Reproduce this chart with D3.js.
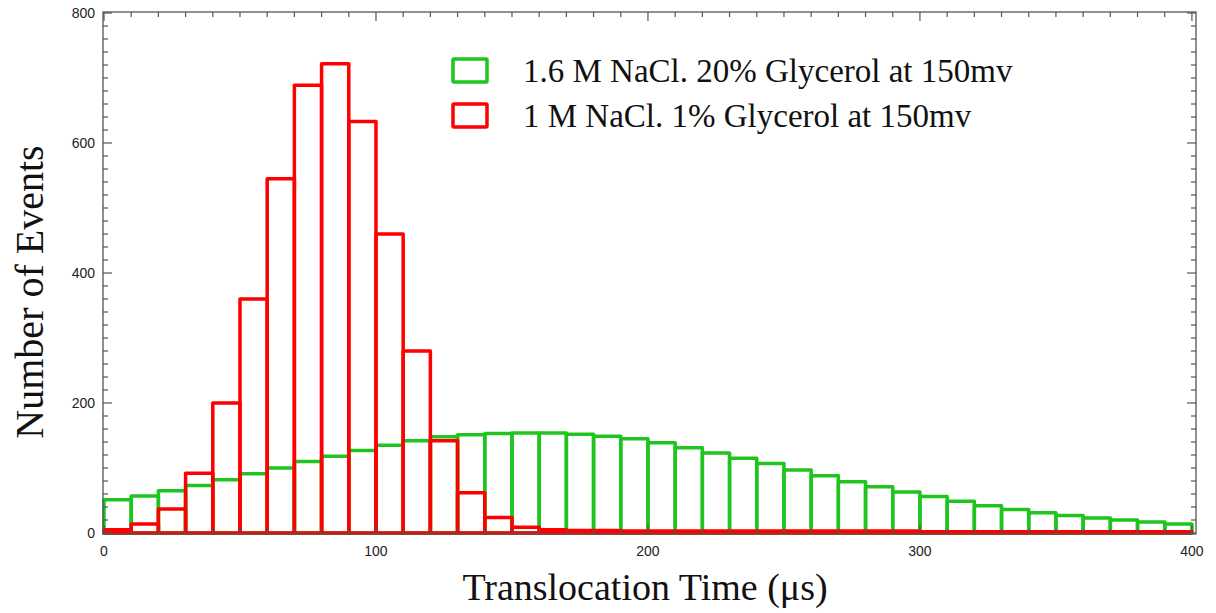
<!DOCTYPE html>
<html>
<head>
<meta charset="utf-8">
<script src="https://cdn.jsdelivr.net/npm/d3@7"></script>
<style>
  body { margin: 0; background: #fff; }
  svg { display: block; }
</style>
</head>
<body>
<div id="chart"></div>
<script>
const WIDTH = 1216;
const HEIGHT = 613;

// histogram data, bins of 10 µs from 0 to 400
const BIN_WIDTH = 10;
const glycerol20 = [51, 57, 65, 73, 82, 91, 100, 110, 118, 127,
  135, 142, 148, 151, 153, 154, 154, 152, 149, 145,
  139, 131, 123, 115, 107, 97, 88, 79, 71, 63,
  56, 49, 42, 36, 31, 27, 23, 20, 17, 14];
const glycerol1 = [5, 14, 37, 92, 200, 360, 545, 689, 722, 633,
  460, 280, 142, 62, 24, 9, 5, 4, 4, 3,
  3, 3, 3, 3, 3, 3, 3, 3, 3, 3,
  2, 2, 2, 2, 2, 2, 2, 2, 2, 2];

const seriesNames = ["1.6 M NaCl. 20% Glycerol at 150mv", "1 M NaCl. 1% Glycerol at 150mv"];
const seriesColors = ["#1fc41f", "#ff0000"];

const xTicks = [0, 100, 200, 300, 400];
const yTicks = [0, 200, 400, 600, 800];

const svg = d3.select("#chart").append("svg")
  .attr("width", WIDTH)
  .attr("height", HEIGHT);

const frame = { left: 103, right: 1196, top: 12, bottom: 534 };

const x = d3.scaleLinear().domain([0, 401.5]).range([104, 1196]);
const y = d3.scaleLinear().domain([0, 800]).range([533, 13]);

// bars: green first, red on top, no fill
function drawBars(values, color) {
  svg.append("g")
    .selectAll("rect")
    .data(values)
    .enter().append("rect")
    .attr("x", (d, i) => x(i * BIN_WIDTH))
    .attr("width", (d, i) => x((i + 1) * BIN_WIDTH) - x(i * BIN_WIDTH))
    .attr("y", d => y(d))
    .attr("height", d => y(0) - y(d))
    .attr("fill", "none")
    .attr("stroke", color)
    .attr("stroke-width", 3.5)
    .attr("stroke-linejoin", "round");
}
drawBars(glycerol20, seriesColors[0]);
drawBars(glycerol1, seriesColors[1]);

// frame
const axisColor = "#555";
svg.append("rect")
  .attr("x", frame.left)
  .attr("y", frame.top)
  .attr("width", frame.right - frame.left)
  .attr("height", frame.bottom - frame.top)
  .attr("fill", "none")
  .attr("stroke", axisColor)
  .attr("stroke-width", 1.3);

// ticks on all four sides, pointing inward
const xMinor = d3.range(0, 401, 10);
const yMinor = d3.range(0, 801, 20);
const ticks = svg.append("g").attr("stroke", axisColor).attr("stroke-width", 1.2);

xMinor.forEach(v => {
  const len = v % 100 === 0 ? 9 : 5;
  ticks.append("line").attr("x1", x(v)).attr("x2", x(v))
    .attr("y1", frame.bottom).attr("y2", frame.bottom - len);
  ticks.append("line").attr("x1", x(v)).attr("x2", x(v))
    .attr("y1", frame.top).attr("y2", frame.top + len);
});
yMinor.forEach(v => {
  const len = v % 200 === 0 ? 9 : 5;
  ticks.append("line").attr("y1", y(v)).attr("y2", y(v))
    .attr("x1", frame.left).attr("x2", frame.left + len);
  ticks.append("line").attr("y1", y(v)).attr("y2", y(v))
    .attr("x1", frame.right).attr("x2", frame.right - len);
});

// tick labels
const labelFont = "'Liberation Sans', Arial, sans-serif";
svg.append("g").selectAll("text")
  .data(xTicks)
  .enter().append("text")
  .attr("x", d => x(d))
  .attr("y", 556)
  .attr("text-anchor", "middle")
  .style("font-family", labelFont)
  .style("font-size", "14px")
  .attr("fill", "#222")
  .text(d => d);

svg.append("g").selectAll("text")
  .data(yTicks)
  .enter().append("text")
  .attr("x", 95)
  .attr("y", d => y(d))
  .attr("dy", "0.35em")
  .attr("text-anchor", "end")
  .style("font-family", labelFont)
  .style("font-size", "14px")
  .attr("fill", "#222")
  .text(d => d);

// axis titles
const titleFont = "'Liberation Serif', 'Times New Roman', serif";
svg.append("text")
  .attr("x", 645)
  .attr("y", 600)
  .attr("text-anchor", "middle")
  .style("font-family", titleFont)
  .style("font-size", "38px")
  .attr("fill", "#111")
  .text("Translocation Time (\u03bcs)");

svg.append("text")
  .attr("transform", "translate(43,292) rotate(-90)")
  .attr("text-anchor", "middle")
  .style("font-family", titleFont)
  .style("font-size", "40px")
  .attr("fill", "#111")
  .text("Number of Events");

// legend
const legend = svg.append("g");
seriesNames.forEach((name, i) => {
  const top = 59 + i * 45;
  legend.append("rect")
    .attr("x", 453)
    .attr("y", top)
    .attr("width", 34)
    .attr("height", 23)
    .attr("fill", "none")
    .attr("stroke", seriesColors[i])
    .attr("stroke-width", 3.5)
    .attr("rx", 1);
  legend.append("text")
    .attr("x", 523)
    .attr("y", top + 23)
    .style("font-family", titleFont)
    .style("font-size", "33px")
    .attr("fill", "#111")
    .text(name);
});
</script>
</body>
</html>
